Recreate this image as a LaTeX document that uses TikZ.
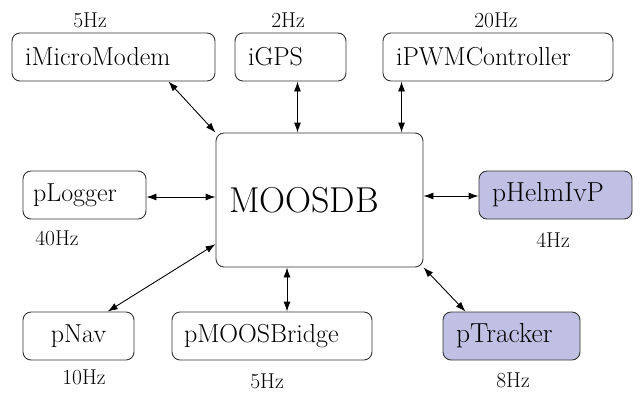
\documentclass[tikz,border=0pt]{standalone}
\usepackage{xcolor}
\usepackage{tikz}
\usetikzlibrary{arrows.meta, positioning, calc}
\definecolor{appfill}{RGB}{192,192,228}
\tikzstyle{app} = [rectangle, rounded corners=8pt, minimum height=48pt, inner xsep=13pt, align=left, draw=black!80, line width=0.9pt, font=\fontsize{26}{29}\selectfont]
\tikzstyle{active} = [app, fill=appfill]
\tikzstyle{rate} = [inner sep=1pt, font=\fontsize{21.5}{24}\selectfont]
\tikzstyle{link} = [line width=0.9pt, <->, >={Latex[length=10pt,width=7pt]}]
\begin{document}
\begin{tikzpicture}[x=1pt, y=-1pt]
    \useasboundingbox (0,0) rectangle (642,392);
    % Database
    \node[app, text width=181pt, minimum height=134pt, font=\fontsize{36}{39}\selectfont] (db) at (319.5,200) {MOOSDB};

    % Top row
    \node[app, text width=177pt] (modem) at (113.5,57) {iMicroModem};
    \node[app, text width=85pt] (gps) at (290.5,57) {iGPS};
    \node[app, text width=204pt] (pwm) at (498,57) {iPWMController};

    % Middle row
    \node[app, inner xsep=10pt, text width=103pt] (logger) at (84.5,195) {pLogger};
    \node[active, text width=127pt, font=\fontsize{27.5}{30}\selectfont] (helm) at (555.5,195) {pHelmIvP};

    % Bottom row
    \node[app, text width=85pt, align=center] (nav) at (78.5,336) {pNav};
    \node[app, text width=176pt, inner xsep=12pt] (bridge) at (272,336) {pMOOSBridge};
    \node[active, text width=111pt, font=\fontsize{27.5}{30}\selectfont] (tracker) at (511.5,336) {pTracker};

    % Rates
    \node[rate] (modemrate) at (90,20) {5Hz};
    \node[rate] (gpsrate) at (288,20) {2Hz};
    \node[rate] (pwmrate) at (496,20) {20Hz};
    \node[rate] (loggerrate) at (57,238) {40Hz};
    \node[rate] (helmrate) at (553,240) {4Hz};
    \node[rate] (navrate) at (84,377) {10Hz};
    \node[rate] (bridgerate) at (267,381) {5Hz};
    \node[rate] (trackerrate) at (513,380) {8Hz};

    % Connections
    \draw[link] (modem.-24) -- (db.north west);
    \draw[link] ([xshift=7pt]gps.south) -- ([xshift=7pt]gps.south |- db.north);
    \draw[link] ([xshift=19pt]pwm.south west) -- ([xshift=19pt]pwm.south west |- db.north);
    \draw[link] ([yshift=-2pt]logger.east) -- ([yshift=-2pt]logger.east -| db.west);
    \draw[link] ([yshift=-1pt]helm.west) -- ([yshift=-1pt]helm.west -| db.east);
    \draw[link] (nav.40) -- (db.203);
    \draw[link] ([xshift=15pt]bridge.north) -- ([xshift=15pt]bridge.north |- db.south);
    \draw[link] (tracker.152) -- (db.south east);
\end{tikzpicture}
\end{document}
